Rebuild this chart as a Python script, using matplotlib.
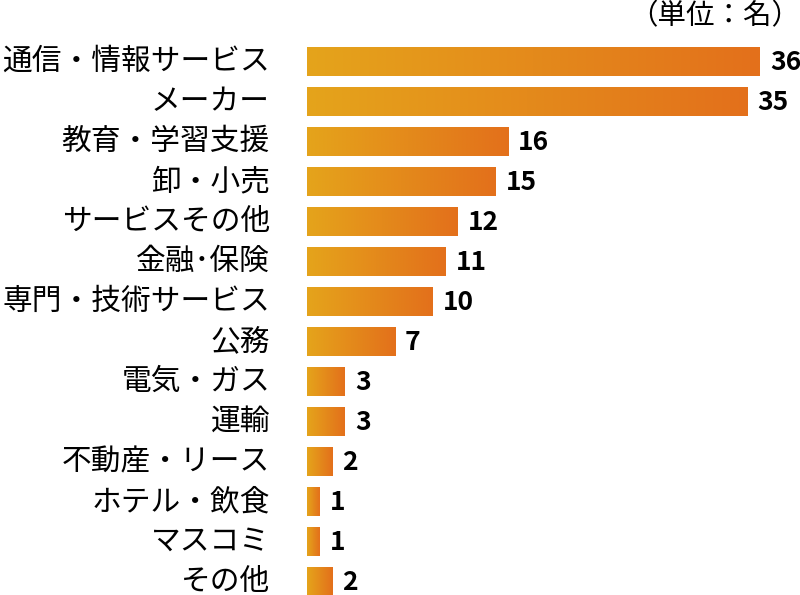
import matplotlib
matplotlib.use("Agg")
import matplotlib.pyplot as plt
import numpy as np
from matplotlib.colors import LinearSegmentedColormap

plt.rcParams['font.family'] = ['Noto Sans CJK JP', 'DejaVu Sans']

categories = ["通信・情報サービス", "メーカー", "教育・学習支援", "卸・小売", "サービスその他",
              "金融･保険", "専門・技術サービス", "公務", "電気・ガス", "運輸",
              "不動産・リース", "ホテル・飲食", "マスコミ", "その他"]
values = [36, 35, 16, 15, 12, 11, 10, 7, 3, 3, 2, 1, 1, 2]
unit_label = "（単位：名）"

W, H = 800, 595
fig = plt.figure(figsize=(W / 100, H / 100), dpi=100)
ax = fig.add_axes([307 / W, 0, (W - 307) / W, 1])
ax.axis('off')

cmap = LinearSegmentedColormap.from_list("g", ["#E5A41B", "#E3701B"])
grad = np.linspace(0, 1, 256).reshape(1, -1)
bh = 0.72
ys = np.arange(len(values))
bars = ax.barh(ys, values, height=bh, color="none", edgecolor="none")
for y, v, b, c in zip(ys, values, bars, categories):
    im = ax.imshow(grad, cmap=cmap, extent=[0, v, y + bh / 2, y - bh / 2],
                   aspect='auto', interpolation='bilinear', zorder=2)
    im.set_clip_path(b)
    ax.text(v + 0.8, y + 0.02, str(v), ha='left', va='center', fontsize=19,
            fontweight='bold', color='black')
    ax.text(-37 / 12.58, y, c, ha='right', va='center',
            fontsize=21.4, color='black', clip_on=False)

ax.set_xlim(0, (W - 307) / 12.58)
ax.set_ylim((H - 61.5) / 40, -61.5 / 40)
fig.text(1.0, 1 - 16 / H, unit_label, ha='right', va='center', fontsize=20.5, color='black')

fig.savefig("out.png", dpi=100)
